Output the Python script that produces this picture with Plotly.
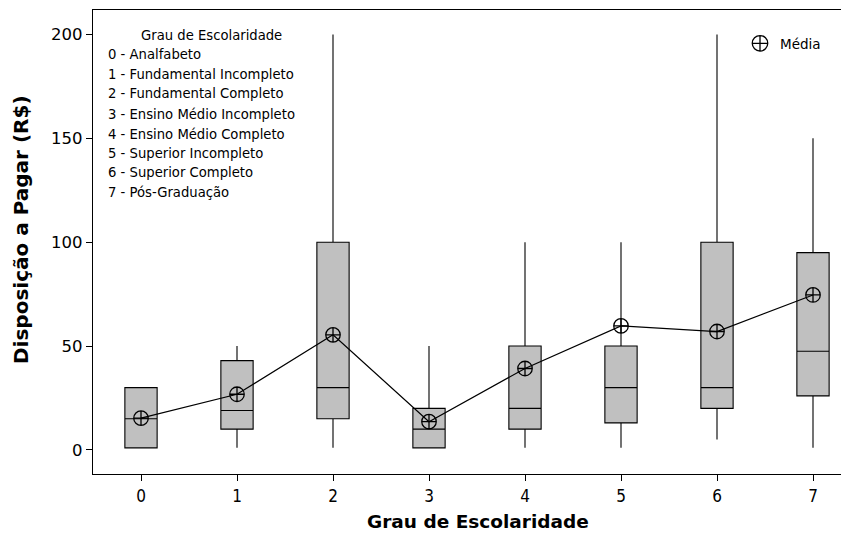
import plotly.graph_objects as go

# ---- data ----
categories = [0, 1, 2, 3, 4, 5, 6, 7]
q1_values = [1, 10, 15, 1, 10, 13, 20, 26]
median_values = [15, 19, 30, 10, 20, 30, 30, 47.5]
q3_values = [30, 43, 100, 20, 50, 50, 100, 95]
lower_whisker = [1, 1, 1, 1, 1, 1, 5, 1]
upper_whisker = [30, 50, 200, 50, 100, 100, 200, 150]
mean_values = [15.3, 26.8, 55.4, 13.6, 39.2, 59.7, 57.0, 74.6]

legend_title = "Grau de Escolaridade"
legend_items = [
    "0 - Analfabeto",
    "1 - Fundamental Incompleto",
    "2 - Fundamental Completo",
    "3 - Ensino Médio Incompleto",
    "4 - Ensino Médio Completo",
    "5 - Superior Incompleto",
    "6 - Superior Completo",
    "7 - Pós-Graduação",
]
y_ticks = [0, 50, 100, 150, 200]

# the page body has an 8px default margin: size the figure so it fits exactly
OFF = 8
W, H = 849 - OFF, 536 - OFF
L, R, T, B = 93 - OFF, 0, 10 - OFF, 62
pw, ph = W - L - R, H - T - B


def px(xp):  # reference page pixel -> paper
    return (xp - OFF - L) / pw


def py(yp):
    return (H - B - (yp - OFF)) / ph


FONT = "DejaVu Sans"

fig = go.Figure()
fig.add_trace(go.Box(
    x=categories, q1=q1_values, median=median_values, q3=q3_values,
    lowerfence=lower_whisker, upperfence=upper_whisker,
    width=0.336, whiskerwidth=0, boxpoints=False,
    fillcolor="#C0C0C0", line=dict(color="black", width=1.1),
    showlegend=False, hoverinfo="skip",
))
fig.add_trace(go.Scatter(
    x=categories, y=mean_values, mode="lines+markers",
    line=dict(color="black", width=1.2),
    marker=dict(symbol="circle-cross-open", size=14.5, color="black",
                line=dict(color="black", width=1.3)),
    showlegend=False,
))
fig.add_trace(go.Scatter(
    x=[None], y=[None], mode="markers", name="Média",
    marker=dict(symbol="circle-cross-open", size=15.5, color="black",
                line=dict(color="black", width=1.3)),
    showlegend=True,
))

annotations = [
    dict(text=legend_title, x=px(211), y=py(35), xref="paper", yref="paper",
         showarrow=False, xanchor="center", yanchor="middle",
         font=dict(family=FONT, size=13.2, color="black")),
]
item_y = [55, 74.5, 94, 114, 134, 153, 172, 192]
for txt, yy in zip(legend_items, item_y):
    annotations.append(dict(text=txt, x=px(106), y=py(yy), xref="paper", yref="paper",
                            showarrow=False, xanchor="left", yanchor="middle",
                            font=dict(family=FONT, size=13.2, color="black")))
annotations.append(dict(text="<b>Grau de Escolaridade</b>", x=px(478), y=py(521),
                        xref="paper", yref="paper", showarrow=False,
                        xanchor="center", yanchor="middle",
                        font=dict(family=FONT, size=18.5, color="black")))
annotations.append(dict(text="<b>Disposição a Pagar (R$)</b>", x=px(21), y=py(230),
                        xref="paper", yref="paper", showarrow=False, textangle=-90,
                        xanchor="center", yanchor="middle",
                        font=dict(family=FONT, size=20, color="black")))

fig.update_layout(
    width=W, height=H,
    margin=dict(l=L, r=R, t=T, b=B, pad=0, autoexpand=False),
    paper_bgcolor="white", plot_bgcolor="white",
    annotations=annotations,
    legend=dict(x=px(740), y=py(28), xanchor="left", yanchor="top",
                bgcolor="rgba(0,0,0,0)", borderwidth=0,
                font=dict(family=FONT, size=13.5, color="black")),
    xaxis=dict(range=[-0.5, (849 - 141) / 96], tickvals=categories,
               showgrid=False, zeroline=False, showline=True, linecolor="black",
               linewidth=1.2, mirror=True, ticks="outside", ticklen=6,
               tickcolor="black", automargin=False,
               tickfont=dict(family="DejaVu Sans Condensed", size=17, color="black")),
    yaxis=dict(range=[-11.6, 211.8], tickvals=y_ticks, automargin=False,
               showgrid=False, zeroline=False, showline=True, linecolor="black",
               linewidth=1.2, ticks="outside", ticklen=6, tickcolor="black",
               tickfont=dict(family=FONT, size=16.5, color="black")),
)

fig.write_html("out.html")
